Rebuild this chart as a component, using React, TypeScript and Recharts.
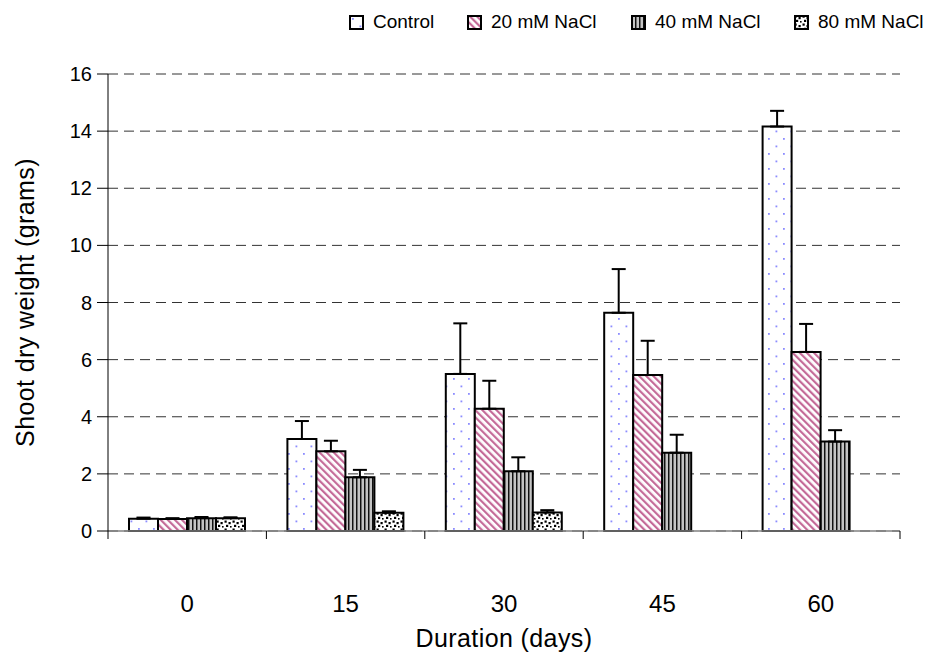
import React from 'react';
import { BarChart, Bar, XAxis, YAxis, CartesianGrid, ErrorBar, Label } from 'recharts';

const days = ['0', '15', '30', '45', '60'];
const seriesNames = ['Control', '20 mM NaCl', '40 mM NaCl', '80 mM NaCl'];
const control = [0.43, 3.22, 5.5, 7.64, 14.16];
const controlErr = [0.04, 0.63, 1.77, 1.53, 0.55];
const nacl20 = [0.42, 2.79, 4.28, 5.46, 6.27];
const nacl20Err = [0.03, 0.37, 0.98, 1.2, 0.98];
const nacl40 = [0.45, 1.88, 2.09, 2.74, 3.13];
const nacl40Err = [0.04, 0.26, 0.49, 0.63, 0.4];
const nacl80 = [0.45, 0.64, 0.65, null, null];
const nacl80Err = [0.03, 0.05, 0.08, null, null];
const yTicks = [0, 2, 4, 6, 8, 10, 12, 14, 16];

const data = days.map((d, i) => ({
  day: d,
  c: control[i],
  cErr: [0, controlErr[i]],
  n20: nacl20[i],
  n20Err: [0, nacl20Err[i]],
  n40: nacl40[i],
  n40Err: [0, nacl40Err[i]],
  n80: nacl80[i],
  n80Err: nacl80Err[i] == null ? null : [0, nacl80Err[i] as number],
}));

const W = 930;
const H = 663;
const PLOT_LEFT = 108;
const PLOT_RIGHT = 900;
const PLOT_TOP = 74;
const PLOT_BOTTOM = 531;
const BAND = (PLOT_RIGHT - PLOT_LEFT) / days.length;
const FONT = '"Liberation Sans", Arial, Helvetica, sans-serif';

const Patterns = ({ prefix }: { prefix: string }) => (
  <defs>
    <pattern id={`${prefix}ctrl`} width="15" height="15" patternUnits="userSpaceOnUse">
      <rect width="15" height="15" fill="#ffffff" />
      <rect x="3" y="3" width="1.8" height="1.8" fill="#8c8cff" />
      <rect x="10.5" y="10.5" width="1.8" height="1.8" fill="#8c8cff" />
    </pattern>
    <pattern id={`${prefix}n20`} width="5" height="5" patternUnits="userSpaceOnUse" patternTransform="rotate(-45)">
      <rect width="5" height="5" fill="#ffffff" />
      <rect x="0" y="0" width="2.2" height="5" fill="#c46a98" />
    </pattern>
    <pattern id={`${prefix}n40`} width="4" height="4" patternUnits="userSpaceOnUse">
      <rect width="4" height="4" fill="#ffffff" />
      <rect x="0" y="0" width="1.6" height="4" fill="#111111" />
      <rect x="2.5" y="0" width="1" height="4" fill="#8a8a8a" />
    </pattern>
    <pattern id={`${prefix}n80`} width="8" height="8" patternUnits="userSpaceOnUse">
      <rect width="8" height="8" fill="#ffffff" />
      <rect x="0.5" y="0.5" width="2.2" height="2.2" fill="#000000" />
      <rect x="4.5" y="2" width="2.2" height="2.2" fill="#000000" />
      <rect x="2" y="4.8" width="2.2" height="2.2" fill="#000000" />
      <rect x="6" y="6" width="1.6" height="1.6" fill="#000000" />
    </pattern>
  </defs>
);

const patternKeys = ['ctrl', 'n20', 'n40', 'n80'];
const legendTextLeft = [373, 491, 655, 818];

const XTick = (props: any) => {
  const { x, y, payload, index } = props;
  const half = BAND / 2;
  return (
    <g>
      <text x={x} y={y + 81} textAnchor="middle" fontSize={24} fontFamily={FONT} fill="#000">
        {payload.value}
      </text>
      <line x1={x + half} x2={x + half} y1={y} y2={y + 8} stroke="#000" strokeWidth={1} />
      {index === 0 ? <line x1={x - half} x2={x - half} y1={y} y2={y + 8} stroke="#000" strokeWidth={1} /> : null}
    </g>
  );
};

const YTitle = (props: any) => {
  const vb = props.viewBox || { x: 0, y: PLOT_TOP, width: PLOT_LEFT, height: PLOT_BOTTOM - PLOT_TOP };
  const cx = 25;
  const cy = vb.y + vb.height / 2;
  return (
    <text
      x={cx}
      y={cy}
      transform={`rotate(-90 ${cx} ${cy})`}
      textAnchor="middle"
      dominantBaseline="central"
      fontSize={25}
      letterSpacing={0.4}
      fontFamily={FONT}
      fill="#000"
    >
      Shoot dry weight (grams)
    </text>
  );
};

const XTitle = (props: any) => {
  const vb = props.viewBox || { x: PLOT_LEFT, y: PLOT_BOTTOM, width: PLOT_RIGHT - PLOT_LEFT, height: 132 };
  const cx = vb.x + vb.width / 2;
  return (
    <text x={cx} y={PLOT_BOTTOM + 116} textAnchor="middle" fontSize={25} letterSpacing={0.4} fontFamily={FONT} fill="#000">
      Duration (days)
    </text>
  );
};

export default function App() {
  return (
    <div style={{ position: 'absolute', left: 0, top: 0, width: W, height: H, background: '#fff', fontFamily: FONT }}>
      <BarChart
        width={W}
        height={H}
        data={data}
        margin={{ top: PLOT_TOP, right: W - PLOT_RIGHT, bottom: 0, left: 0 }}
        barCategoryGap={21}
        barGap={0}
      >
        <Patterns prefix="c-" />
        <CartesianGrid vertical={false} stroke="#333" strokeDasharray="10 6" />
        <XAxis
          dataKey="day"
          height={H - PLOT_BOTTOM}
          axisLine={{ stroke: '#808080', strokeWidth: 1.5 }}
          tickLine={false}
          tickSize={0}
          tickMargin={0}
          tick={<XTick />}
          interval={0}
        >
          <Label content={<XTitle />} />
        </XAxis>
        <YAxis
          width={PLOT_LEFT}
          domain={[0, 16]}
          ticks={yTicks}
          interval={0}
          axisLine={{ stroke: '#000', strokeWidth: 1 }}
          tickLine={{ stroke: '#000', strokeWidth: 1 }}
          tickSize={11}
          tickMargin={5}
          tick={{ fontSize: 20, fill: '#000', fontFamily: FONT }}
        >
          <Label content={<YTitle />} />
        </YAxis>
        <Bar dataKey="c" name={seriesNames[0]} fill="url(#c-ctrl)" stroke="#000" strokeWidth={2} isAnimationActive={false}>
          <ErrorBar dataKey="cErr" width={7} stroke="#000" strokeWidth={2} direction="y" />
        </Bar>
        <Bar dataKey="n20" name={seriesNames[1]} fill="url(#c-n20)" stroke="#000" strokeWidth={2} isAnimationActive={false}>
          <ErrorBar dataKey="n20Err" width={7} stroke="#000" strokeWidth={2} direction="y" />
        </Bar>
        <Bar dataKey="n40" name={seriesNames[2]} fill="url(#c-n40)" stroke="#000" strokeWidth={2} isAnimationActive={false}>
          <ErrorBar dataKey="n40Err" width={7} stroke="#000" strokeWidth={2} direction="y" />
        </Bar>
        <Bar dataKey="n80" name={seriesNames[3]} fill="url(#c-n80)" stroke="#000" strokeWidth={2} isAnimationActive={false}>
          <ErrorBar dataKey="n80Err" width={7} stroke="#000" strokeWidth={2} direction="y" />
        </Bar>
      </BarChart>
      {seriesNames.map((name, i) => (
        <div
          key={name}
          style={{
            position: 'absolute',
            left: legendTextLeft[i] - 24,
            top: 12,
            display: 'flex',
            alignItems: 'center',
            fontSize: 19,
            lineHeight: '20px',
            color: '#000',
            whiteSpace: 'nowrap',
          }}
        >
          <svg width={15} height={15} style={{ marginRight: 9, display: 'block' }}>
            <Patterns prefix={`l${i}-`} />
            <rect x={1} y={1} width={13} height={13} fill={`url(#l${i}-${patternKeys[i]})`} stroke="#000" strokeWidth={2} />
          </svg>
          <span>{name}</span>
        </div>
      ))}
    </div>
  );
}
